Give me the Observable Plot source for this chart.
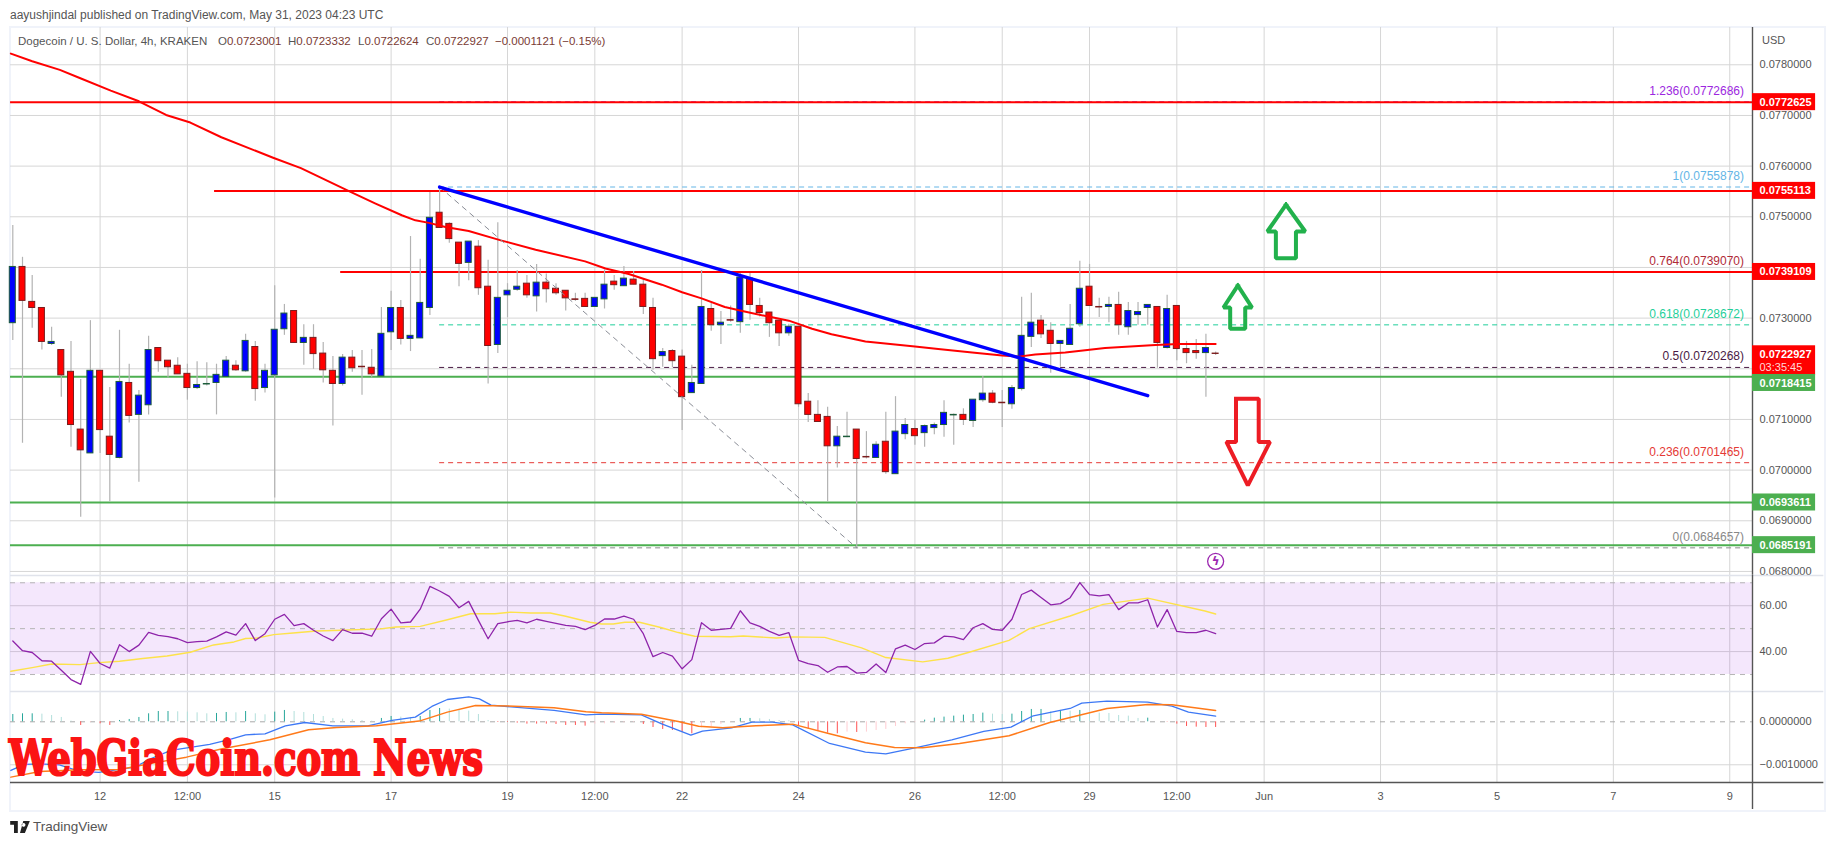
<!DOCTYPE html>
<html><head><meta charset="utf-8">
<script src="https://cdn.jsdelivr.net/npm/d3@7"></script>
<script src="https://cdn.jsdelivr.net/npm/@observablehq/plot@0.6"></script>
<style>
html,body{margin:0;padding:0;background:#fff;overflow:hidden;width:1834px;height:845px;font-family:"Liberation Sans",sans-serif;color:#555}
.abs{position:absolute;white-space:nowrap}
.pane{position:absolute;left:0}
.pane svg{display:block;background:transparent}
#frame{left:9px;top:26px;width:1813px;height:782px;border:2px solid #f0f3fa}
.v{color:#7a3b34}
</style></head><body>
<div class="abs" id="frame"></div>
<div id="pane1" class="pane" style="top:27px"></div>
<div id="pane2" class="pane" style="top:575px"></div>
<div id="pane3" class="pane" style="top:691px"></div>
<div class="abs" style="left:10px;top:7px;font-size:12px;line-height:16px">aayushjindal published on TradingView.com, May 31, 2023 04:23 UTC</div>
<div class="abs" style="left:18px;top:34px;font-size:11.5px;line-height:14px">Dogecoin / U. S. Dollar, 4h, KRAKEN</div>
<div class="abs" style="left:218px;top:34px;font-size:11.5px;line-height:14px">O<span class="v">0.0723001</span></div>
<div class="abs" style="left:288px;top:34px;font-size:11.5px;line-height:14px">H<span class="v">0.0723332</span></div>
<div class="abs" style="left:358px;top:34px;font-size:11.5px;line-height:14px">L<span class="v">0.0722624</span></div>
<div class="abs" style="left:426px;top:34px;font-size:11.5px;line-height:14px">C<span class="v">0.0722927</span></div>
<div class="abs v" style="left:495px;top:34px;font-size:11.5px;line-height:14px">−0.0001121 (−0.15%)</div>
<div class="abs" style="left:1762px;top:33px;font-size:11px;line-height:14px">USD</div>
<div id="wm" class="abs" style="left:9px;top:731px;font-family:'DejaVu Serif Condensed','DejaVu Serif',serif;font-weight:700;font-size:49px;line-height:54px;color:#fb1414;-webkit-text-stroke:2.2px #fb1414;transform-origin:0 0">WebGiaCoin.com News</div>
<svg class="abs" style="left:10px;top:821px" width="20" height="12" viewBox="0 0 36 22"><path fill="#222" d="M0 0H14V22H7V7H0ZM21 7a3.5 3.5 0 1 0 0-.01ZM24 0H36L27 22H18Z"/></svg>
<div class="abs" style="left:33px;top:819px;font-size:13.5px;line-height:16px">TradingView</div>
<script>
const open = [
0.07290,0.07401,0.07332,0.07320,0.07249,0.07237,0.07194,0.07080,0.07033,0.07196,
0.07066,0.07024,0.07172,0.07109,0.07128,0.07241,0.07216,0.07206,0.07190,0.07162,
0.07169,0.07172,0.07184,0.07206,0.07195,0.07243,0.07162,0.07187,0.07278,0.07314,
0.07251,0.07261,0.07230,0.07196,0.07170,0.07222,0.07204,0.07202,0.07185,0.07272,
0.07320,0.07259,0.07260,0.07320,0.07508,0.07486,0.07449,0.07409,0.07441,0.07362,
0.07247,0.07345,0.07356,0.07368,0.07343,0.07370,0.07358,0.07354,0.07337,0.07338,
0.07322,0.07337,0.07372,0.07363,0.07376,0.07366,0.07320,0.07225,0.07235,0.07224,
0.07152,0.07170,0.07318,0.07286,0.07296,0.07292,0.07378,0.07324,0.07311,0.07295,
0.07270,0.07283,0.07135,0.07109,0.07105,0.07047,0.07065,0.07080,0.07026,0.07024,
0.07056,0.06992,0.07071,0.07081,0.07073,0.07083,0.07089,0.07108,0.07109,0.07097,
0.07138,0.07151,0.07133,0.07130,0.07160,0.07263,0.07295,0.07275,0.07249,0.07247,
0.07288,0.07362,0.07322,0.07322,0.07326,0.07282,0.07306,0.07320,0.07322,0.07241,
0.07324,0.07239,0.07235,0.07231,0.0723001];
const high = [
0.07483,0.07420,0.07384,0.07320,0.07282,0.07237,0.07254,0.07179,0.07295,0.07196,
0.07163,0.07276,0.07209,0.07157,0.07264,0.07241,0.07216,0.07222,0.07209,0.07214,
0.07212,0.07209,0.07224,0.07216,0.07268,0.07254,0.07209,0.07364,0.07327,0.07314,
0.07287,0.07287,0.07252,0.07224,0.07228,0.07236,0.07236,0.07238,0.07321,0.07353,
0.07335,0.07461,0.07416,0.07548,0.07559,0.07488,0.07449,0.07451,0.07453,0.07414,
0.07488,0.07368,0.07394,0.07384,0.07406,0.07387,0.07368,0.07354,0.07349,0.07349,
0.07340,0.07395,0.07384,0.07402,0.07392,0.07376,0.07339,0.07240,0.07238,0.07237,
0.07207,0.07394,0.07329,0.07313,0.07324,0.07388,0.07388,0.07339,0.07311,0.07295,
0.07288,0.07283,0.07151,0.07137,0.07124,0.07086,0.07114,0.07080,0.07076,0.07056,
0.07114,0.07145,0.07102,0.07099,0.07089,0.07093,0.07137,0.07111,0.07121,0.07139,
0.07185,0.07157,0.07157,0.07167,0.07341,0.07349,0.07305,0.07291,0.07255,0.07327,
0.07412,0.07406,0.07339,0.07341,0.07351,0.07331,0.07331,0.07326,0.07322,0.07345,
0.07324,0.07254,0.07258,0.07268,0.0723332];
const low = [
0.07256,0.07053,0.07280,0.07237,0.07246,0.07144,0.07045,0.06907,0.07033,0.07033,
0.06937,0.07022,0.07093,0.06976,0.07109,0.07193,0.07182,0.07189,0.07138,0.07159,
0.07166,0.07109,0.07184,0.07195,0.07193,0.07136,0.07152,0.06945,0.07266,0.07251,
0.07207,0.07199,0.07172,0.07087,0.07166,0.07193,0.07148,0.07182,0.07185,0.07236,
0.07247,0.07234,0.07260,0.07305,0.07478,0.07448,0.07362,0.07374,0.07345,0.07170,
0.07230,0.07301,0.07353,0.07339,0.07312,0.07330,0.07345,0.07314,0.07333,0.07322,
0.07322,0.07318,0.07355,0.07363,0.07366,0.07307,0.07197,0.07203,0.07202,0.07078,
0.07152,0.07170,0.07274,0.07248,0.07292,0.07270,0.07296,0.07302,0.07262,0.07244,
0.07264,0.07124,0.07094,0.07095,0.06937,0.07004,0.07064,0.06847,0.07022,0.07024,
0.06992,0.06992,0.07060,0.07049,0.07045,0.07070,0.07065,0.07049,0.07088,0.07084,
0.07134,0.07131,0.07084,0.07120,0.07156,0.07242,0.07260,0.07191,0.07203,0.07247,
0.07282,0.07324,0.07301,0.07291,0.07266,0.07266,0.07286,0.07286,0.07201,0.07239,
0.07216,0.07210,0.07219,0.07144,0.0722624];
const close = [
0.07401,0.07334,0.07320,0.07253,0.07253,0.07187,0.07089,0.07039,0.07196,0.07079,
0.07030,0.07174,0.07107,0.07147,0.07237,0.07215,0.07203,0.07189,0.07162,0.07168,
0.07170,0.07188,0.07216,0.07197,0.07255,0.07160,0.07196,0.07277,0.07309,0.07251,
0.07261,0.07229,0.07197,0.07170,0.07222,0.07201,0.07203,0.07189,0.07269,0.07320,
0.07259,0.07265,0.07330,0.07498,0.07478,0.07456,0.07407,0.07451,0.07359,0.07245,
0.07340,0.07354,0.07362,0.07345,0.07370,0.07357,0.07349,0.07339,0.07336,0.07322,
0.07340,0.07366,0.07365,0.07378,0.07366,0.07322,0.07219,0.07233,0.07215,0.07144,
0.07172,0.07322,0.07286,0.07291,0.07295,0.07380,0.07326,0.07310,0.07290,0.07270,
0.07283,0.07130,0.07109,0.07095,0.07047,0.07066,0.07066,0.07022,0.07025,0.07050,
0.06996,0.07076,0.07089,0.07067,0.07087,0.07089,0.07113,0.07109,0.07099,0.07139,
0.07151,0.07133,0.07132,0.07162,0.07265,0.07291,0.07268,0.07249,0.07255,0.07279,
0.07358,0.07324,0.07321,0.07326,0.07286,0.07314,0.07312,0.07326,0.07251,0.07318,
0.07239,0.07231,0.07231,0.07241,0.0722927];

const maBar = [-0.2,2,4.85,6.9,10.1,13,15.8,18.3,21.5,26.9,29.7,34.6,37.4,40.1,41.5,42.9,44.6,47,50.4,53.9,59,61.1,63.5,66.9,69,71,73.4,75.2,77.9,80,82.4,84.4,87.9,93,95.4,98.9,102,103.7,105.4,108.5,112.6,117.8,120.2,124];
const maPrice = [0.07822,0.07807,0.07790,0.07774,0.07749,0.07728,0.07701,0.07686,0.07657,0.07616,0.07596,0.07551,0.07526,0.07503,0.07493,0.07488,0.07480,0.07472,0.07453,0.07435,0.07412,0.07398,0.07387,0.07366,0.07351,0.07339,0.07322,0.07314,0.07303,0.07295,0.07279,0.07268,0.07254,0.07244,0.07239,0.07232,0.07226,0.07224,0.07228,0.07232,0.07241,0.07247,0.07249,0.07249];

const rsi = [
44.6,40.4,39.6,36.0,35.8,31.9,27.8,25.7,40.1,34.8,
32.8,43.0,40.0,42.8,48.4,47.1,46.5,45.6,43.9,44.3,
44.6,46.4,48.6,47.2,52.2,44.8,47.8,54.1,56.2,51.3,
52.2,49.3,46.8,44.8,49.6,48.0,48.0,46.7,54.3,58.5,
52.5,52.9,58.5,68.4,66.4,64.1,59.1,61.9,53.6,45.6,
52.2,53.0,53.6,52.5,54.1,53.2,52.3,51.4,51.0,49.6,
51.4,54.2,54.2,55.5,54.1,47.8,37.8,39.6,38.0,32.5,
36.5,52.6,49.3,49.7,50.1,57.8,52.5,51.0,48.8,47.1,
48.3,36.2,34.8,33.9,31.0,33.3,33.5,30.6,30.9,34.6,
30.9,41.2,42.8,40.9,43.5,43.8,46.7,46.4,45.2,50.4,
52.2,49.7,49.3,54.1,64.9,66.8,63.6,60.4,60.9,63.5,
70.1,64.8,64.3,64.8,58.3,61.2,61.2,62.6,50.7,58.3,
48.8,48.3,48.3,49.3,47.8];
const rsiMaBar = [-0.2,2,4,6.9,8.9,11,13.4,15.9,18.3,20.7,22.8,24,25.2,26.9,28.9,31.3,33.8,37.9,39.5,42,44.8,47.2,49.7,51.3,53.4,55.4,57,59.5,60.7,61.9,63.1,64.6,66.9,68.6,70.3,74,75.3,78.7,80.4,83.7,87.5,90,93.8,96.4,98.5,102.7,104.8,109,112.4,117,122.9,124];
const rsiMa = [31.4,33,34.6,34.3,35.2,35.8,37,38.1,39.7,42.9,44.2,45.7,45.9,47.4,48.1,49,49.3,49.9,50.7,51,53.9,56.5,56.5,57.2,56.8,56.8,55.4,52.8,52,52,52.8,52.8,50.4,48.3,46.7,46.5,46.8,45.9,46.4,46.2,41.6,37.4,35.5,37.1,39.6,44.9,50,55.5,60.6,63.3,57.7,56.4];

const macdBar = [-0.2,1.2,2.8,4.8,6.9,8.9,11,12.6,14.2,16.3,18.3,20.3,22.4,24,26,28.1,30.1,33,36.6,39.1,41.5,43.2,44.8,47,48.1,49.3,51.7,55.8,59.1,60.7,64.8,66.9,69.9,71.1,74.1,76.2,78.3,80.4,84.2,87.9,90,93,96.8,100.1,102.9,105.2,109,110.2,112.8,117,119.5,121.2,124];
const macd = [-0.001132,-0.000992,-0.000977,-0.001,-0.001155,-0.001178,-0.001108,-0.001054,-0.00086,-0.000667,-0.000597,-0.000527,-0.000411,-0.000302,-0.000279,-0.000093,-0.000016,-0.000093,-0.000093,0.000031,0.000108,0.000357,0.000519,0.000581,0.000535,0.000388,0.000341,0.000264,0.000163,0.000178,0.000163,-0.000047,-0.00031,-0.000217,-0.00014,-0.000008,-0.000008,-0.00007,-0.000504,-0.000705,-0.000744,-0.000605,-0.000419,-0.000225,-0.000124,0.00014,0.00031,0.000434,0.000481,0.000457,0.000364,0.000225,0.000132];
const signalBar = [-0.2,2.8,6.9,11,15,17.9,21.6,26.5,30.5,33.4,37.5,41.9,44.8,47.7,51.7,55.8,59.1,60.7,64.8,68.6,70.7,73.2,76.6,80.4,84.2,87.9,90.9,93.8,97.6,102.7,106.9,112.8,117,119.5,124];
const signal = [-0.001287,-0.001155,-0.001116,-0.001108,-0.000938,-0.000822,-0.000628,-0.000419,-0.000186,-0.000132,-0.000093,0.000016,0.000225,0.00038,0.000364,0.000326,0.000233,0.000209,0.000178,0.000008,-0.000101,-0.00014,-0.000093,-0.000054,-0.000279,-0.000488,-0.000597,-0.000605,-0.000504,-0.000326,-0.000016,0.00031,0.000403,0.000395,0.000264];
const macdHist = [
0.000170,0.000186,0.000186,0.000178,0.000147,0.000101,0.000016,-0.000085,-0.000016,-0.000047,
-0.000085,0.000031,0.000054,0.000101,0.000186,0.000240,0.000240,0.000233,0.000225,0.000209,
0.000186,0.000194,0.000217,0.000209,0.000240,0.000186,0.000163,0.000225,0.000264,0.000240,
0.000217,0.000170,0.000124,0.000078,0.000062,0.000047,0.000031,0.000016,0.000078,0.000124,
0.000109,0.000101,0.000124,0.000264,0.000310,0.000295,0.000264,0.000248,0.000170,0.000031,
-0.000016,-0.000016,-0.000031,-0.000054,-0.000054,-0.000054,-0.000062,-0.000085,-0.000085,-0.000101,
-0.000054,-0.000047,-0.000039,-0.000023,-0.000016,-0.000062,-0.000132,-0.000178,-0.000202,-0.000248,
-0.000279,-0.000140,-0.000109,-0.000062,-0.000008,0.000078,0.000078,0.000070,0.000054,0.000031,
0.000023,-0.000093,-0.000170,-0.000217,-0.000264,-0.000279,-0.000240,-0.000248,-0.000240,-0.000202,
-0.000178,-0.000109,-0.000047,-0.000016,0.000039,0.000085,0.000109,0.000132,0.000155,0.000170,
0.000202,0.000178,0.000170,0.000178,0.000240,0.000287,0.000287,0.000233,0.000264,0.000248,
0.000264,0.000225,0.000202,0.000194,0.000147,0.000132,0.000078,0.000085,0,-0.000008,
-0.000054,-0.000109,-0.000124,-0.000132,-0.000132];

const gridBars = [9,18,27,39,51,60,69,81,93,102,111,120,129,141,153,165,177];
const gridLabels = ["12","12:00","15","17","19","12:00","22","24","26","12:00","29","12:00","Jun","3","5","7","9"];
const priceGrid = [0.078,0.077,0.076,0.075,0.074,0.073,0.072,0.071,0.07,0.069,0.068];
const priceTicks = [0.078,0.077,0.076,0.075,0.074,0.073,0.071,0.07,0.069,0.068];
const rsiTicks = [60,40];
const rsiBands = [70,50,30];
const macdTicks = [0,-0.001];

const redLevels = [0.0772625,0.0755113,0.0739109];
const redFrom = [-0.23,20.8,33.8];
const greenLevels = [0.0718415,0.0693611,0.0685191];
const tagTexts = ["0.0772625","0.0755113","0.0739109","0.0718415","0.0693611","0.0685191"];
const tagCenters = [0.0772625,0.0755113,0.0739109,0.07172,0.0693611,0.0685191];
const tagFills = ["#ff0000","#ff0000","#ff0000","#4caf50","#4caf50","#4caf50"];
const lastPriceText = "0.0722927", lastPriceY = 0.07228;
const countdownText = "03:35:45", countdownY = 0.07202;
const lastPriceBox = [0.071874,0.072454];

const fibRatios = ["1.236","1","0.764","0.618","0.5","0.236","0"];
const fibPrices = [0.0772686,0.0755878,0.0739070,0.0728672,0.0720268,0.0701465,0.0684657];
const fibColors = ["#9c27e0","#64b5e6","#b02a37","#1fcf9a","#4a1a44","#e53935","#888888"];
const fibStart = 44, fibEnd = 87;
const trendBars = [44,117], trendPrices = [0.0755878,0.07147];
const arrow1Bars = [131.25,133.24,132.28,132.28,130.21,130.21,129.33,131.25];
const arrow1Prices = [0.075237,0.07471,0.07471,0.074183,0.074183,0.07471,0.07471,0.075237];
const arrow2Bars = [126.29,127.75,127.05,127.05,125.5,125.5,124.81,126.29];
const arrow2Prices = [0.073644,0.07321,0.07321,0.07279,0.07279,0.07321,0.07321,0.073644];
const arrow3Bars = [126.1,128.44,128.44,129.6,127.32,125.11,126.1,126.1];
const arrow3Prices = [0.071408,0.071408,0.070556,0.070556,0.069697,0.070556,0.070556,0.071408];
const boltBar = 124, boltPrice = 0.0682;

/* layout */
const W = 1834, LEFT = 10, AXIS = 1752;
const xDomain = [-0.2371, 179.3454];
const xEdge = xDomain[1], xLeft = xDomain[0];
const xRightEdge = 186.7, tagEnd = 185.85;
const F = {fontFamily:"'Liberation Sans',sans-serif", background:"transparent", overflow:"visible"};
const GRID = "#d6d6d6", AX = "#555";
const xScale = {type:"linear", domain:xDomain, range:[LEFT,AXIS]};
const common = {width:W, marginLeft:LEFT, marginRight:W-AXIS, marginTop:0, style:F, color:{type:"identity"}};
const pts = (xs,ys)=>xs.map((x,i)=>({x,y:ys[i]}));
const fixed = n=>d=>d.toFixed(n).replace("-","−");

const bars = open.map((o,i)=>({i,o,h:high[i],l:low[i],c:close[i],up:close[i]>=o}));
const fib = fibPrices.map((p,i)=>({p,label:`${fibRatios[i]}(${p.toFixed(7)})`,color:fibColors[i]}));
const tags = tagTexts.map((t,i)=>({t,y:tagCenters[i],fill:tagFills[i]}));
const hist = macdHist.map((v,i)=>{
  const prev = i?macdHist[i-1]:0;
  return {i,v,color: v>=0 ? (v>=prev?"#26a69a":"#b2dfdb") : (v<=prev?"#ff5252":"#ffcdd2")};
});
const arrow = (xs,ys,color)=>Plot.line(pts(xs,ys),{x:"x",y:"y",stroke:color,strokeWidth:4,strokeLinejoin:"miter",strokeLinecap:"square"});
const gridV = Plot.ruleX(gridBars,{stroke:GRID,strokeWidth:1});
const horiz = (ticks)=>Plot.ruleY(ticks,{x1:xLeft,x2:xEdge,stroke:GRID,strokeWidth:1});
const tagHalf = 0.0001678;

const pane1 = Plot.plot({...common, x:{...xScale,axis:null}, height:548, marginBottom:0,
  y:{domain:[0.06792,0.078736], range:[548,0]},
  marks:[
    gridV, horiz(priceGrid),
    Plot.axisY({anchor:"right",ticks:priceTicks,tickFormat:fixed(7),tickSize:0,tickPadding:7,fontSize:11,color:AX,label:null,textAnchor:"start"}),
    Plot.ruleY(fib,{y:"p",x1:fibStart,x2:xEdge,stroke:"color",strokeWidth:1,strokeDasharray:"5,4"}),
    Plot.ruleY(greenLevels,{x1:xLeft,x2:xEdge,stroke:"#4caf50",strokeWidth:2}),
    Plot.ruleY(redLevels,{x1:(d,i)=>redFrom[i],x2:xEdge,stroke:"#ff0000",strokeWidth:2}),
    Plot.ruleX(bars,{x:"i",y1:"l",y2:"h",stroke:"#b3b3b3",strokeWidth:1.2}),
    Plot.rect(bars,{x1:d=>d.i-0.31,x2:d=>d.i+0.31,y1:"o",y2:"c",
      fill:d=>d.up?"#0000ff":"#ff0000",stroke:d=>d.up?"#1c5c3a":"#7a1c1c",strokeWidth:1}),
    Plot.line(pts(maBar,maPrice),{x:"x",y:"y",stroke:"#ff0000",strokeWidth:2,curve:"linear"}),
    Plot.line(pts([fibStart,fibEnd],[fibPrices[1],fibPrices[6]]),{x:"x",y:"y",stroke:"#8a8d96",strokeWidth:1,strokeDasharray:"5,5"}),
    Plot.line(pts(trendBars,trendPrices),{x:"x",y:"y",stroke:"#0000ff",strokeWidth:3.4}),
    arrow(arrow1Bars,arrow1Prices,"#22b14c"),
    arrow(arrow2Bars,arrow2Prices,"#22b14c"),
    arrow(arrow3Bars,arrow3Prices,"#ed1c24"),
    Plot.dot([0],{x:boltBar,y:boltPrice,r:8,stroke:"#9c27b0",strokeWidth:1.3,fill:"#fff"}),
    Plot.text(["ϟ"],{x:boltBar,y:boltPrice,fontSize:12,fontWeight:700,fontFamily:"'DejaVu Sans',sans-serif",fill:"#9c27b0"}),
    Plot.text(fib,{x:xEdge,y:"p",text:"label",fill:"color",textAnchor:"end",dx:-8.5,dy:-11,fontSize:12}),
    Plot.ruleX([xEdge],{stroke:AX,strokeWidth:1.4}),
    Plot.rect([0],{x1:xEdge,x2:tagEnd,y1:lastPriceBox[0],y2:lastPriceBox[1],fill:"#ff0000"}),
    Plot.text([lastPriceText],{x:xEdge,y:lastPriceY,text:d=>d,fill:"#fff",fontWeight:700,dx:7,textAnchor:"start",fontSize:11}),
    Plot.text([countdownText],{x:xEdge,y:countdownY,text:d=>d,fill:"#ffd9d9",dx:7,textAnchor:"start",fontSize:11}),
    Plot.rect(tags,{x1:xEdge,x2:tagEnd,y1:d=>d.y-tagHalf,y2:d=>d.y+tagHalf,fill:"fill"}),
    Plot.text(tags,{x:xEdge,y:"y",text:"t",fill:"#fff",fontWeight:700,dx:7,textAnchor:"start",fontSize:11})
  ]});
document.getElementById("pane1").append(pane1);

const pane2 = Plot.plot({...common, x:{...xScale,axis:null}, height:116, marginBottom:0,
  y:{domain:[22.6,73.17], range:[116,0]},
  marks:[
    gridV, horiz(rsiTicks),
    Plot.rect([0],{x1:xLeft,x2:xEdge,y1:30,y2:70,fill:"#9c27e0",fillOpacity:0.11}),
    Plot.ruleY(rsiBands,{x1:xLeft,x2:xEdge,stroke:"#b5b5b5",strokeWidth:1,strokeDasharray:"5,5"}),
    Plot.line(pts(rsiMaBar,rsiMa),{x:"x",y:"y",stroke:"#fde24a",strokeWidth:1.4}),
    Plot.line(rsi.map((v,i)=>({x:i,y:v})),{x:"x",y:"y",stroke:"#8e24aa",strokeWidth:1.3}),
    Plot.axisY({anchor:"right",ticks:rsiTicks,tickFormat:fixed(2),tickSize:0,tickPadding:7,fontSize:11,color:AX,label:null,textAnchor:"start"}),
    Plot.ruleY([73.17],{x1:xLeft,x2:xRightEdge,stroke:"#e0e3eb",strokeWidth:1.5}),
    Plot.ruleX([xEdge],{stroke:AX,strokeWidth:1.4})
  ]});
document.getElementById("pane2").append(pane2);

const macdBottom = -0.001412, frameBottom = -0.00204;
const pane3 = Plot.plot({...common, x:xScale, height:118, marginBottom:27,
  y:{domain:[macdBottom,0.000705], range:[91,0]},
  marks:[
    gridV, horiz(macdTicks.slice(1)),
    Plot.ruleY([0],{x1:xLeft,x2:xEdge,stroke:"#a8a8a8",strokeWidth:1,strokeDasharray:"5,5"}),
    Plot.ruleX(hist,{x:"i",y1:0,y2:"v",stroke:"color",strokeWidth:1}),
    Plot.line(pts(macdBar,macd),{x:"x",y:"y",stroke:"#3d78f5",strokeWidth:1.3}),
    Plot.line(pts(signalBar,signal),{x:"x",y:"y",stroke:"#ff7a1a",strokeWidth:1.5}),
    Plot.axisY({anchor:"right",ticks:macdTicks,tickFormat:fixed(7),tickSize:0,tickPadding:7,fontSize:11,color:AX,label:null,textAnchor:"start"}),
    Plot.axisX({anchor:"bottom",ticks:gridBars,tickFormat:d=>gridLabels[gridBars.indexOf(d)],tickSize:0,tickPadding:10,fontSize:11,color:AX,label:null}),
    Plot.ruleY([0.000705],{x1:xLeft,x2:xRightEdge,stroke:"#e0e3eb",strokeWidth:1.5}),
    Plot.ruleY([macdBottom],{x1:xLeft,x2:xRightEdge,stroke:AX,strokeWidth:1.4}),
    Plot.ruleX([xEdge],{y1:0.000705,y2:frameBottom,stroke:AX,strokeWidth:1.4})
  ]});
document.getElementById("pane3").append(pane3);

const wm = document.getElementById("wm");
wm.style.transform = `scaleX(${474/wm.getBoundingClientRect().width})`;
</script>
</body></html>
